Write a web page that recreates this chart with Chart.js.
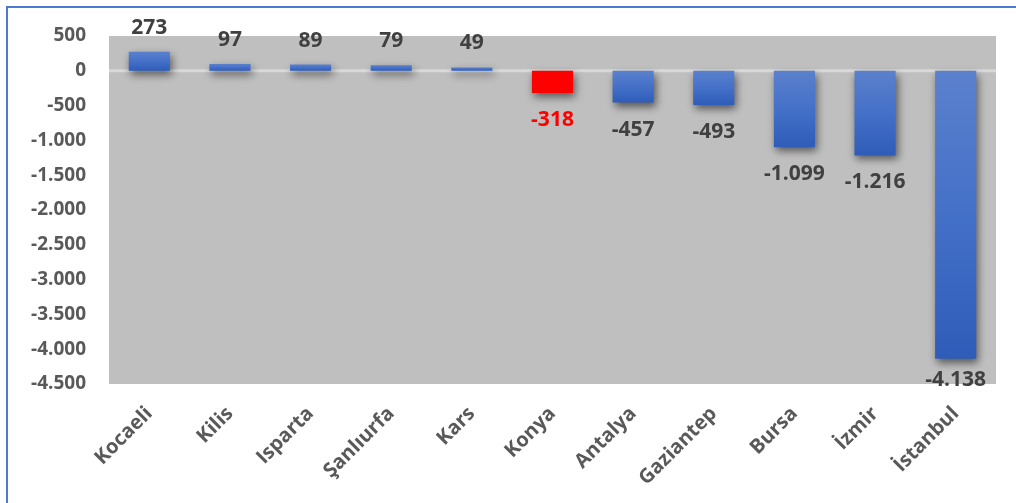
<!DOCTYPE html>
<html>
<head>
<meta charset="utf-8">
<script src="https://cdn.jsdelivr.net/npm/chart.js@4/dist/chart.umd.min.js"></script>
<style>
  html, body { margin: 0; padding: 0; background: #ffffff; }
  #wrap { position: relative; width: 1016px; height: 503px; overflow: hidden; }
  #frame { position: absolute; left: 6px; top: 6px; width: 1020px; height: 510px;
           border-top: 2px solid #4a7bd0; border-left: 2px solid #4a7bd0; box-sizing: border-box; }
  canvas { position: absolute; left: 0; top: 0; }
</style>
</head>
<body>
<div id="wrap">
  <div id="frame"></div>
  <canvas id="c" width="1016" height="503"></canvas>
</div>
<script>
const categories = ["Kocaeli", "Kilis", "Isparta", "Şanlıurfa", "Kars", "Konya", "Antalya", "Gaziantep", "Bursa", "İzmir", "İstanbul"];
const values = [273, 97, 89, 79, 49, -318, -457, -493, -1099, -1216, -4138];
const highlightIndex = 5;
const yMin = -4500, yMax = 500, yStep = 500;

const FONT = "'Open Sans', 'DejaVu Sans', sans-serif";

function fmt(v) {
  const s = Math.abs(Math.round(v)).toString().replace(/\B(?=(\d{3})+(?!\d))/g, ".");
  return (v < 0 ? "-" : "") + s;
}

const plotBg = {
  id: 'plotBg',
  beforeDraw(chart) {
    const { ctx, chartArea: a } = chart;
    ctx.save();
    ctx.fillStyle = '#bfbfbf';
    ctx.fillRect(a.left, a.top, a.right - a.left, a.bottom - a.top);
    const y0 = chart.scales.y.getPixelForValue(0);
    ctx.strokeStyle = '#d9d9d9';
    ctx.lineWidth = 3;
    ctx.beginPath();
    ctx.moveTo(a.left, y0);
    ctx.lineTo(a.right, y0);
    ctx.stroke();
    ctx.restore();
  }
};

const shadow = {
  id: 'shadow',
  beforeDatasetsDraw(chart) {
    const ctx = chart.ctx;
    ctx.save();
    ctx.shadowColor = 'rgba(0,0,0,0.55)';
    ctx.shadowBlur = 8;
    ctx.shadowOffsetX = 2;
    ctx.shadowOffsetY = 4;
  },
  afterDatasetsDraw(chart) {
    chart.ctx.restore();
  }
};

const labels = {
  id: 'valueLabels',
  afterDatasetsDraw(chart) {
    const { ctx, chartArea: a } = chart;
    const meta = chart.getDatasetMeta(0);
    ctx.save();
    ctx.font = "bold 21px " + FONT;
    ctx.textAlign = 'center';
    ctx.textBaseline = 'alphabetic';
    meta.data.forEach((bar, i) => {
      const v = values[i];
      ctx.fillStyle = i === highlightIndex ? '#ff0000' : '#404040';
      let y;
      if (v >= 0) {
        y = bar.y - 18;
      } else {
        y = Math.min(bar.y + 18 + 15, a.bottom + 2);
      }
      ctx.fillText(fmt(v), bar.x, y);
    });
    ctx.restore();
  }
};

function barColor(c) {
  if (c.type !== 'data') return '#4472c4';
  if (c.dataIndex === highlightIndex) return '#ff0000';
  const chart = c.chart;
  if (!chart.chartArea || !chart.scales.y) return '#4472c4';
  const ys = chart.scales.y;
  const p0 = ys.getPixelForValue(0), p1 = ys.getPixelForValue(c.raw);
  const top = Math.min(p0, p1), bot = Math.max(p0, p1);
  if (!isFinite(top) || !isFinite(bot) || bot - top < 1) return '#4472c4';
  const g = chart.ctx.createLinearGradient(0, top, 0, bot);
  g.addColorStop(0, '#5b81cd');
  g.addColorStop(0.5, '#4470c8');
  g.addColorStop(1, '#2e5cb8');
  return g;
}

new Chart(document.getElementById('c'), {
  type: 'bar',
  data: {
    labels: categories,
    datasets: [{
      data: values,
      backgroundColor: barColor,
      borderWidth: 0,
      categoryPercentage: 1.0,
      barPercentage: 0.51
    }]
  },
  options: {
    responsive: false,
    animation: false,
    devicePixelRatio: 1,
    layout: { padding: { top: 36, right: 20, bottom: 0, left: 0 } },
    plugins: {
      legend: { display: false },
      tooltip: { enabled: false }
    },
    scales: {
      x: {
        grid: { display: false, drawTicks: false },
        border: { display: false },
        ticks: {
          autoSkip: false,
          maxRotation: 45,
          minRotation: 45,
          padding: 18,
          color: '#595959',
          font: { family: FONT, size: 20, weight: 'bold' }
        },
        afterFit(s) { s.height = 119; }
      },
      y: {
        min: yMin,
        max: yMax,
        grid: { display: false, drawTicks: false },
        border: { display: false },
        ticks: {
          stepSize: yStep,
          padding: 23,
          color: '#595959',
          font: { family: FONT, size: 19, weight: 'bold' },
          callback: (v) => fmt(v)
        },
        afterFit(s) { s.width = 109; }
      }
    }
  },
  plugins: [plotBg, shadow, labels]
});
</script>
</body>
</html>
